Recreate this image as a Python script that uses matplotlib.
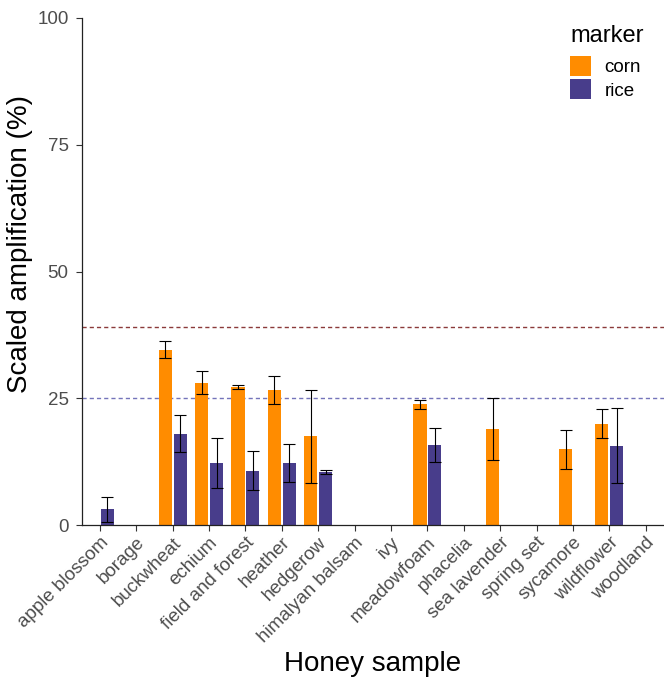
import numpy as np
import matplotlib
matplotlib.use('Agg')
import matplotlib.pyplot as plt
from matplotlib.patches import Patch

plt.rcParams['font.family'] = ['Liberation Sans', 'DejaVu Sans']

# honey samples and scaled amplification per marker (mean and sd)
samples = ['apple blossom', 'borage', 'buckwheat', 'echium', 'field and forest',
           'heather', 'hedgerow', 'himalyan balsam', 'ivy', 'meadowfoam',
           'phacelia', 'sea lavender', 'spring set', 'sycamore', 'wildflower',
           'woodland']
nan = np.nan
corn = [nan, nan, 34.6, 28.1, 27.3, 26.6, 17.5, nan, nan, 23.8, nan, 19.0, nan, 14.9, 20.0, nan]
corn_sd = [nan, nan, 1.6, 2.2, 0.4, 2.7, 9.2, nan, nan, 0.9, nan, 6.1, nan, 3.8, 2.9, nan]
rice = [3.1, nan, 18.0, 12.2, 10.7, 12.2, 10.5, nan, nan, 15.8, nan, nan, nan, nan, 15.6, nan]
rice_sd = [2.5, nan, 3.6, 5.0, 3.8, 3.7, 0.4, nan, nan, 3.3, nan, nan, nan, nan, 7.4, nan]

corn_cut = 39.0
rice_cut = 25.0

col_corn = '#FF8C00'
col_rice = '#483D8B'

fig = plt.figure(figsize=(6.64, 6.78), dpi=100)
ax = fig.add_axes([81.7/664, 1 - 525/678, 1 - 81.7/664, (525 - 18)/678])

x = np.arange(len(samples))
off = 0.205
w = 0.36

ax.bar(x - off, corn, width=w, color=col_corn, zorder=2)
ax.bar(x + off, rice, width=w, color=col_rice, zorder=2)
ax.errorbar(x - off, corn, yerr=corn_sd, fmt='none', ecolor='black',
            elinewidth=0.8, capsize=4.5, capthick=0.8, zorder=3)
ax.errorbar(x + off, rice, yerr=rice_sd, fmt='none', ecolor='black',
            elinewidth=0.8, capsize=4.5, capthick=0.8, zorder=3)

ax.axhline(corn_cut, color='#8B3A3A', lw=1.0, ls=(0, (3, 2.2)), zorder=1)
ax.axhline(rice_cut, color='#7474BA', lw=1.0, ls=(0, (3, 2.2)), zorder=1)

ax.set_xlim(-0.5, len(samples) - 0.5)
ax.set_ylim(0, 100)
ax.set_yticks([0, 25, 50, 75, 100])
ax.set_xticks(x)
ax.set_xticklabels(samples, rotation=45, ha='right', rotation_mode='anchor')

for s in ['top', 'right']:
    ax.spines[s].set_visible(False)
for s in ['left', 'bottom']:
    ax.spines[s].set_color('#222222')
    ax.spines[s].set_linewidth(0.9)
ax.tick_params(axis='both', colors='#333333', length=4, width=0.8,
               labelsize=13.5, labelcolor='#4D4D4D')
ax.tick_params(axis='y', pad=5.5)
ax.tick_params(axis='x', pad=2.5)

ax.set_xlabel('Honey sample', fontsize=20, labelpad=4)
ax.set_ylabel('Scaled amplification (%)', fontsize=20, labelpad=3)
ax.yaxis.label.set_y(0.555)

handles = [Patch(facecolor=col_corn, label='corn'),
           Patch(facecolor=col_rice, label='rice')]
leg = ax.legend(handles=handles, title='marker', loc='upper left',
                bbox_to_anchor=(557/664, 1 - 12/678), bbox_transform=fig.transFigure,
                frameon=False, fontsize=13.5, title_fontsize=17,
                handlelength=1.12, handleheight=1.26, handletextpad=0.7,
                labelspacing=0.15, borderpad=0.2, alignment='left')
leg._legend_box.sep = 6.5

fig.savefig('out.png', dpi=100)
